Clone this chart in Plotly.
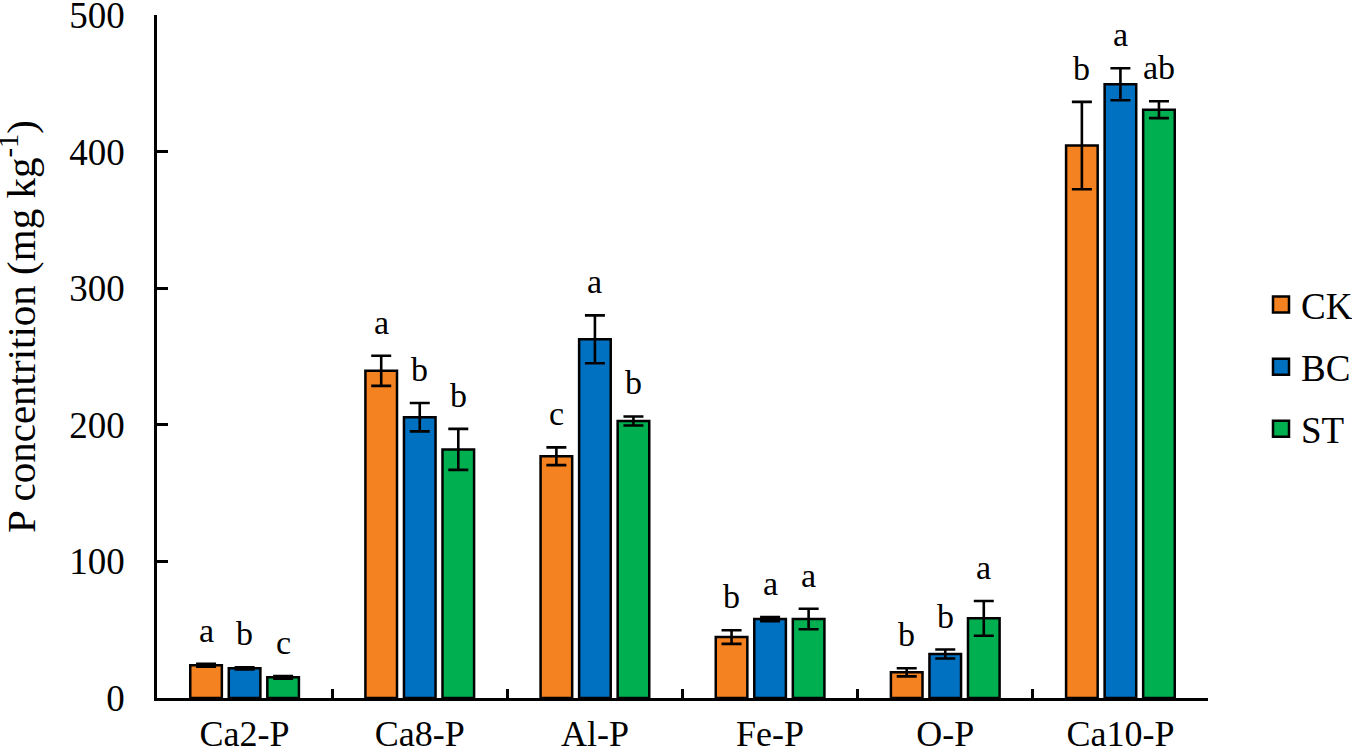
import plotly.graph_objects as go

# ---------------- data ----------------
categories = ["Ca2-P", "Ca8-P", "Al-P", "Fe-P", "O-P", "Ca10-P"]
series_names = ["CK", "BC", "ST"]

ck_mean = [24.0, 239.5, 177.0, 44.6, 18.8, 404.4]
ck_err = [1.0, 11.0, 6.5, 5.0, 3.0, 32.0]
bc_mean = [21.7, 205.6, 262.6, 57.8, 32.2, 449.3]
bc_err = [0.8, 10.4, 17.5, 1.5, 3.3, 11.7]
st_mean = [15.1, 182.0, 202.8, 57.8, 58.3, 430.7]
st_err = [1.0, 15.0, 3.3, 7.5, 12.7, 6.2]

ck_letters = ["a", "a", "c", "b", "b", "b"]
bc_letters = ["b", "b", "a", "a", "b", "a"]
st_letters = ["c", "b", "b", "a", "a", "ab"]

y_ticks = [0, 100, 200, 300, 400, 500]

# ---------------- style ----------------
colors = ["#F58220", "#0070C0", "#00B050"]
FONT = "Liberation Serif"
W, H = 1352, 754
ML, MR, MT, MB = 157, 144, 15, 56
BARGAP, GROUPGAP = 0.34, 0.18

means = [ck_mean, bc_mean, st_mean]
errs = [ck_err, bc_err, st_err]
letters = [ck_letters, bc_letters, st_letters]

fig = go.Figure()
for name, m, e, c in zip(series_names, means, errs, colors):
    fig.add_trace(go.Bar(
        x=categories, y=m, name=name, showlegend=False,
        marker=dict(color=c, line=dict(color="black", width=2.5)),
        error_y=dict(type="data", array=e, visible=True,
                     color="black", thickness=2.6, width=10),
    ))

# legend entries (larger square swatches)
for i, (name, c) in enumerate(zip(series_names, colors)):
    fig.add_trace(go.Scatter(
        x=[None], y=[None], mode="markers", name=name,
        legendgroup=name,
        marker=dict(symbol="square", size=16, color=c,
                    line=dict(color="black", width=2.5)),
    ))

plot_w = W - ML - MR
plot_h = H - MT - MB
slot_px = plot_w / len(categories) * (1 - BARGAP) / 3

annotations = []
for si in range(3):
    for ci, cat in enumerate(categories):
        annotations.append(dict(
            x=cat, y=means[si][ci] + errs[si][ci], xref="x", yref="y",
            text=letters[si][ci], showarrow=False,
            xanchor="center", yanchor="bottom",
            xshift=(si - 1) * slot_px, yshift=13,
            font=dict(family=FONT, size=34, color="black"),
        ))

annotations.append(dict(
    text="P concentrition (mg kg<sup>-1</sup>)",
    xref="paper", yref="paper",
    x=(18 - ML) / plot_w, y=(H - MB - 327) / plot_h,
    xanchor="center", yanchor="middle", textangle=-90, showarrow=False,
    font=dict(family=FONT, size=41, color="black"),
))

fig.update_layout(
    width=W, height=H, autosize=False,
    margin=dict(l=ML, r=MR, t=MT, b=MB, pad=0, autoexpand=False),
    paper_bgcolor="white", plot_bgcolor="white",
    barmode="group", bargap=BARGAP, bargroupgap=GROUPGAP,
    font=dict(family=FONT, size=37, color="black"),
    showlegend=True,
    legend=dict(
        x=(1261 - ML) / plot_w, y=(H - MB - 367) / plot_h,
        xanchor="left", yanchor="middle",
        font=dict(family=FONT, size=37, color="black"),
        tracegroupgap=11, itemsizing="trace",
        bgcolor="rgba(0,0,0,0)",
    ),
    annotations=annotations,
)

fig.update_xaxes(
    type="category", range=[-0.5, 5.5], automargin=False,
    showline=True, linecolor="black", linewidth=2.6,
    ticks="inside", tickson="boundaries", ticklen=9, tickwidth=2.6,
    tickcolor="black", showgrid=False, zeroline=False,
    tickfont=dict(family=FONT, size=36, color="black"),
    ticklabelstandoff=2, ticklabeloverflow="allow",
)
fig.update_yaxes(
    range=[0, 500], tickvals=y_ticks, automargin=False,
    showline=True, linecolor="black", linewidth=2.6,
    ticks="inside", ticklen=11, tickwidth=2.6, tickcolor="black",
    showgrid=False, zeroline=False,
    tickfont=dict(family=FONT, size=37, color="black"),
    ticklabelstandoff=22, ticklabeloverflow="allow",
)

fig.write_html(
    "out.html",
    config={"displayModeBar": False},
    post_script="document.body.style.margin='0';document.body.style.overflow='hidden';",
)
